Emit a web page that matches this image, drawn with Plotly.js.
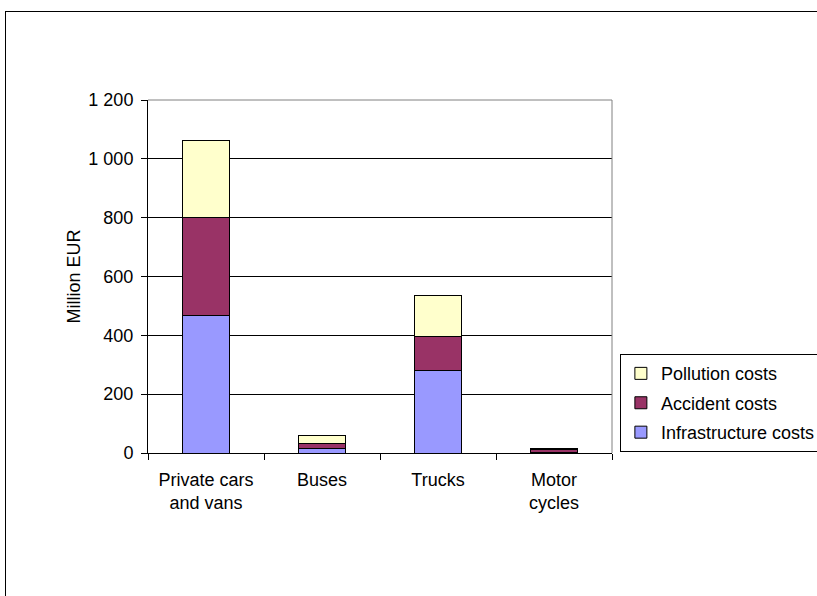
<!DOCTYPE html>
<html>
<head>
<meta charset="utf-8">
<script src="https://cdn.plot.ly/plotly-3.0.1.min.js"></script>
<style>
  html, body { margin: 0; padding: 0; background: #fff; }
  #wrap { position: relative; width: 817px; height: 596px; overflow: hidden; }
  #chart { width: 817px; height: 596px; }
  #frame {
    position: absolute; left: 5px; top: 11px; width: 900px; height: 700px;
    border-left: 1px solid #000; border-top: 1px solid #000;
    pointer-events: none;
  }
</style>
</head>
<body>
<div id="wrap">
  <div id="chart"></div>
  <div id="frame"></div>
</div>
<script>
// Vehicle categories (two-line labels)
const categories = ['Private cars<br>and vans', 'Buses', 'Trucks', 'Motor<br>cycles'];

// Costs in million EUR per category
const infrastructureCosts = [467, 15, 280, 1];
const accidentCosts       = [333, 19, 117, 12];
const pollutionCosts      = [262, 27, 138, 1];

const yTickValues = [0, 200, 400, 600, 800, 1000, 1200];

const font = { family: 'Liberation Sans, Arial, sans-serif', size: 18, color: '#000' };
const outline = { color: '#000', width: 1 };

// one legend group per series so the rows get a little extra spacing;
// the rank puts the top segment first in the legend
function stackTrace(name, values, color, rank) {
  return {
    type: 'bar', name: name, legendgroup: name, legendrank: rank,
    x: categories, y: values,
    marker: { color: color, line: outline }
  };
}

const traces = [
  stackTrace('Infrastructure costs', infrastructureCosts, '#9999FF', 3),
  stackTrace('Accident costs', accidentCosts, '#993366', 2),
  stackTrace('Pollution costs', pollutionCosts, '#FFFFCC', 1)
];

const layout = {
  width: 817, height: 596,
  margin: { l: 148, r: 205, t: 100, b: 143, pad: 0, autoexpand: false },
  paper_bgcolor: '#fff', plot_bgcolor: '#fff',
  font: font,
  separators: '. ',
  barmode: 'stack',
  bargap: 0.6,
  showlegend: true,
  legend: {
    x: 1.017, xanchor: 'left', y: 0.28, yanchor: 'top',
    traceorder: 'grouped',
    tracegroupgap: 3,
    bgcolor: '#fff', bordercolor: '#000', borderwidth: 1,
    font: { family: font.family, size: 18, color: '#000' }
  },
  xaxis: {
    type: 'category',
    showline: true, linecolor: '#000', linewidth: 1,
    ticks: 'outside', ticklen: 6, tickcolor: '#000',
    tickson: 'boundaries',
    ticklabelstandoff: 10,
    showgrid: false, zeroline: false,
    tickfont: font
  },
  yaxis: {
    range: [0, 1200], tickvals: yTickValues,
    separatethousands: true,
    showline: true, linecolor: '#000', linewidth: 1,
    ticks: 'outside', ticklen: 6, tickcolor: '#000',
    ticklabelstandoff: 4,
    showgrid: true, gridcolor: '#000', gridwidth: 1,
    zeroline: false,
    tickfont: font,
    title: { text: 'Million EUR', font: font, standoff: 3 }
  },
  // grey plot-area border along the top and right edges
  shapes: [
    { type: 'line', xref: 'paper', yref: 'paper', x0: 0, x1: 1, y0: 1, y1: 1,
      line: { color: '#808080', width: 1 }, layer: 'above' },
    { type: 'line', xref: 'paper', yref: 'paper', x0: 1, x1: 1, y0: 0, y1: 1,
      line: { color: '#808080', width: 1 }, layer: 'above' }
  ]
};

Plotly.newPlot('chart', traces, layout, { staticPlot: true, displayModeBar: false });
</script>
</body>
</html>
